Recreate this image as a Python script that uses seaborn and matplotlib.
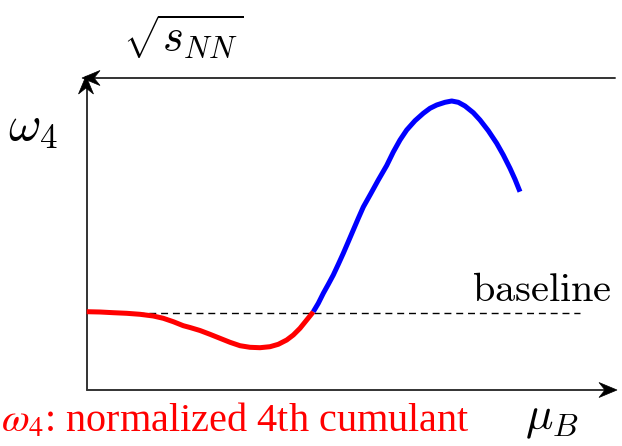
import numpy as np
import pandas as pd
import matplotlib
matplotlib.use("Agg")
import matplotlib.pyplot as plt
from matplotlib.patches import Polygon
import seaborn as sns

# Schematic omega_4 curve vs mu_B (canvas units, y grows downward)
red_x = [86.7, 100, 113.3, 126.7, 140, 153.3, 163.3, 173.3, 183.3, 190, 200, 210,
         220, 230, 240, 250, 260, 270, 278.3, 286.7, 293.3, 300, 306.7, 311.7, 313.3]
red_y = [311.7, 312, 312.7, 313.3, 314.3, 316, 318.3, 321.7, 325.7, 327.5, 330.5, 334.3,
         338.3, 342.3, 345.7, 347.3, 347.7, 346.7, 344.3, 340, 335, 328.3, 320, 313.8, 311.7]

blue_x = [313.3, 318.3, 323.3, 328.3, 333.3, 338.3, 343.3, 348.3, 353.3, 358.3, 363.3,
          370.7, 378.3, 386.7, 393.3, 400, 406.7, 415, 423.3, 430, 436.7, 445, 451.7,
          458.3, 465, 473.3, 480, 488.3, 496.7, 503.3, 510, 515, 520]
blue_y = [311.7, 303.3, 293.3, 284.3, 275, 264.3, 253.3, 241.7, 230, 218.3, 207,
          193.8, 180, 165.5, 152, 140, 130, 120.7, 113.3, 108.3, 105, 102.3, 101,
          102.3, 106, 112.7, 120, 130.7, 143.3, 155, 168.3, 179.3, 191.7]

baseline_y = 313
baseline_x = [137, 580]

sns.set_theme(style="white")
plt.rcParams["mathtext.fontset"] = "cm"

W, H = 622, 446
fig = plt.figure(figsize=(W / 100, H / 100), dpi=100)
ax = fig.add_axes([0, 0, 1, 1])

AX_COL = "#333333"


def stealth(ax, tip, direction, length=18, half=7.5, notch=6, color="black"):
    d = np.array(direction, float)
    d /= np.linalg.norm(d)
    n = np.array([-d[1], d[0]])
    tip = np.array(tip, float)
    back = tip - d * length
    pts = [tip, back + n * half, tip - d * (length - notch), back - n * half]
    ax.add_patch(Polygon(pts, closed=True, facecolor=color, edgecolor=color, lw=0.5, zorder=5))


# axes frame
ax.plot([87, 87], [390, 86], color=AX_COL, lw=1.4)
ax.plot([87, 606], [390, 390], color=AX_COL, lw=1.4)
ax.plot([615, 95], [78, 78], color=AX_COL, lw=1.4)
stealth(ax, (86, 76), (0, -1))
stealth(ax, (617, 390), (1, 0))
stealth(ax, (82, 78), (-1, 0))

# baseline
ax.plot(baseline_x, [baseline_y, baseline_y], color="black", lw=1.0,
        linestyle=(0, (5, 3.5)))

red = pd.DataFrame({"x": red_x, "y": red_y})
blue = pd.DataFrame({"x": blue_x, "y": blue_y})
sns.lineplot(data=red, x="x", y="y", ax=ax, color="#ff0000", lw=3.6, sort=False,
             solid_capstyle="butt", solid_joinstyle="round")
sns.lineplot(data=blue, x="x", y="y", ax=ax, color="#0000ff", lw=3.6, sort=False,
             solid_capstyle="butt", solid_joinstyle="round")
ax.set_xlim(0, W)
ax.set_ylim(H, 0)
ax.axis("off")

# labels
ax.text(123, 37, r"$\sqrt{s_{NN}}$", fontsize=32, ha="left", va="center", color="black")
ax.text(8, 127, r"$\omega_4$", fontsize=36, ha="left", va="center", color="black")
ax.text(612, 301, r"$\mathrm{baseline}$", fontsize=29, ha="right", va="baseline", color="black")
ax.text(579, 429, r"$\mu_B$", fontsize=33, ha="right", va="baseline", color="black")
ax.text(1, 432, r"$\omega_4$: normalized 4th cumulant", fontsize=29, ha="left",
        va="baseline", color="#ff0000", family="Liberation Serif", math_fontfamily="stix")

fig.savefig("out.png", dpi=100)
